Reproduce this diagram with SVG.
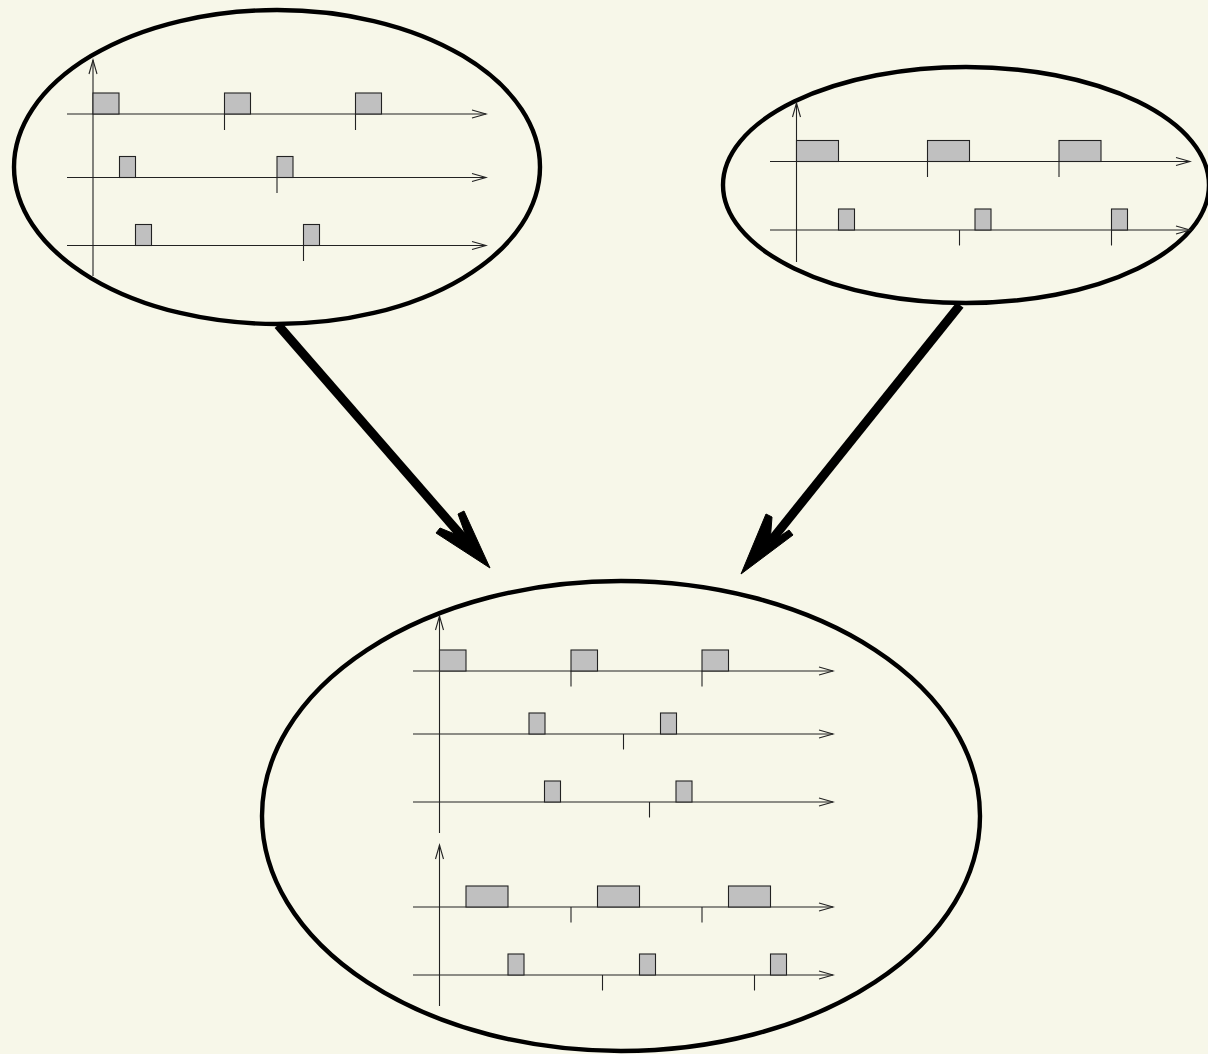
<svg xmlns="http://www.w3.org/2000/svg" width="1208" height="1054" viewBox="0 0 1208 1054">
<style>
.ell{fill:none;stroke:#000;stroke-width:4.4}
.ax{stroke:#222;stroke-width:1.1;fill:none;marker-end:url(#ah)}
.tk{stroke:#222;stroke-width:1.1}
.bx{fill:#c0c0c0;stroke:#222;stroke-width:1.1}
.big{stroke:#000;stroke-width:9;fill:none}
.head{fill:#000;stroke:#000;stroke-width:1;stroke-linejoin:miter}
</style>
<defs>
<marker id="ah" markerUnits="userSpaceOnUse" viewBox="-16 -6 18 12" refX="0" refY="0" markerWidth="18" markerHeight="12" orient="auto">
<path d="M-14,-4 L0,0 L-14,4" fill="none" stroke="#222" stroke-width="1.1"/>
</marker>
</defs>
<rect width="1208" height="1054" fill="#f7f7e9"/>

<g id="node-topleft">
<ellipse class="ell" cx="277" cy="167" rx="263" ry="157"/>
<line class="ax" x1="93" y1="276" x2="93" y2="60"/>
<line class="ax" x1="67" y1="114" x2="486" y2="114"/>
<rect class="bx" x="93" y="93" width="26" height="21"/>
<rect class="bx" x="224.5" y="93" width="26" height="21"/>
<rect class="bx" x="355.5" y="93" width="26" height="21"/>
<line class="tk" x1="224.5" y1="114" x2="224.5" y2="130"/>
<line class="tk" x1="355.5" y1="114" x2="355.5" y2="130"/>
<line class="ax" x1="67" y1="177.5" x2="486" y2="177.5"/>
<rect class="bx" x="119.5" y="156.5" width="16" height="21"/>
<rect class="bx" x="277" y="156.5" width="16" height="21"/>
<line class="tk" x1="277" y1="177.5" x2="277" y2="193"/>
<line class="ax" x1="67" y1="245.5" x2="486" y2="245.5"/>
<rect class="bx" x="135.5" y="224.5" width="16" height="21"/>
<rect class="bx" x="303.5" y="224.5" width="16" height="21"/>
<line class="tk" x1="303.5" y1="245.5" x2="303.5" y2="261"/>
</g>

<g id="node-topright">
<ellipse class="ell" cx="966" cy="185" rx="243" ry="118"/>
<line class="ax" x1="796.5" y1="262" x2="796.5" y2="103"/>
<line class="ax" x1="770" y1="161.5" x2="1190" y2="161.5"/>
<rect class="bx" x="796.5" y="140.5" width="42" height="21"/>
<rect class="bx" x="927.5" y="140.5" width="42" height="21"/>
<rect class="bx" x="1059" y="140.5" width="42" height="21"/>
<line class="tk" x1="927.5" y1="161.5" x2="927.5" y2="177"/>
<line class="tk" x1="1059" y1="161.5" x2="1059" y2="177"/>
<line class="ax" x1="770" y1="230" x2="1190" y2="230"/>
<rect class="bx" x="838.5" y="209" width="16" height="21"/>
<rect class="bx" x="975" y="209" width="16" height="21"/>
<rect class="bx" x="1111.5" y="209" width="16" height="21"/>
<line class="tk" x1="959.5" y1="230" x2="959.5" y2="245.5"/>
<line class="tk" x1="1111.5" y1="230" x2="1111.5" y2="245.5"/>
</g>

<g id="node-bottom">
<ellipse class="ell" cx="621" cy="816" rx="359" ry="235"/>
<line class="ax" x1="439.5" y1="833" x2="439.5" y2="616"/>
<line class="ax" x1="413" y1="671" x2="833" y2="671"/>
<rect class="bx" x="439.5" y="650" width="26.5" height="21"/>
<rect class="bx" x="571" y="650" width="26.5" height="21"/>
<rect class="bx" x="702" y="650" width="26.5" height="21"/>
<line class="tk" x1="571" y1="671" x2="571" y2="686.5"/>
<line class="tk" x1="702" y1="671" x2="702" y2="686.5"/>
<line class="ax" x1="413" y1="734" x2="833" y2="734"/>
<rect class="bx" x="529" y="713" width="16" height="21"/>
<rect class="bx" x="660.5" y="713" width="16" height="21"/>
<line class="tk" x1="623.5" y1="734" x2="623.5" y2="749.5"/>
<line class="ax" x1="413" y1="802" x2="833" y2="802"/>
<rect class="bx" x="544.5" y="781" width="16" height="21"/>
<rect class="bx" x="676" y="781" width="16" height="21"/>
<line class="tk" x1="649.5" y1="802" x2="649.5" y2="817.5"/>

<line class="ax" x1="439.5" y1="1006" x2="439.5" y2="845"/>
<line class="ax" x1="413" y1="907" x2="833" y2="907"/>
<rect class="bx" x="466" y="886" width="42" height="21"/>
<rect class="bx" x="597.5" y="886" width="42" height="21"/>
<rect class="bx" x="728.5" y="886" width="42" height="21"/>
<line class="tk" x1="571" y1="907" x2="571" y2="922.5"/>
<line class="tk" x1="702" y1="907" x2="702" y2="922.5"/>
<line class="ax" x1="413" y1="975" x2="833" y2="975"/>
<rect class="bx" x="508" y="954" width="16" height="21"/>
<rect class="bx" x="639.5" y="954" width="16" height="21"/>
<rect class="bx" x="770.5" y="954" width="16" height="21"/>
<line class="tk" x1="602.5" y1="975" x2="602.5" y2="990.5"/>
<line class="tk" x1="754.5" y1="975" x2="754.5" y2="990.5"/>
</g>

<g id="connectors">
<line class="big" x1="278" y1="325" x2="466" y2="541"/>
<polygon class="head" points="490,568 464,511 458,514 467,539 440,528 436,533"/>
<line class="big" x1="960" y1="305" x2="770" y2="542"/>
<polygon class="head" points="741,574 793,535 789,530 770,543 772,517 766,514"/>
</g>
</svg>
